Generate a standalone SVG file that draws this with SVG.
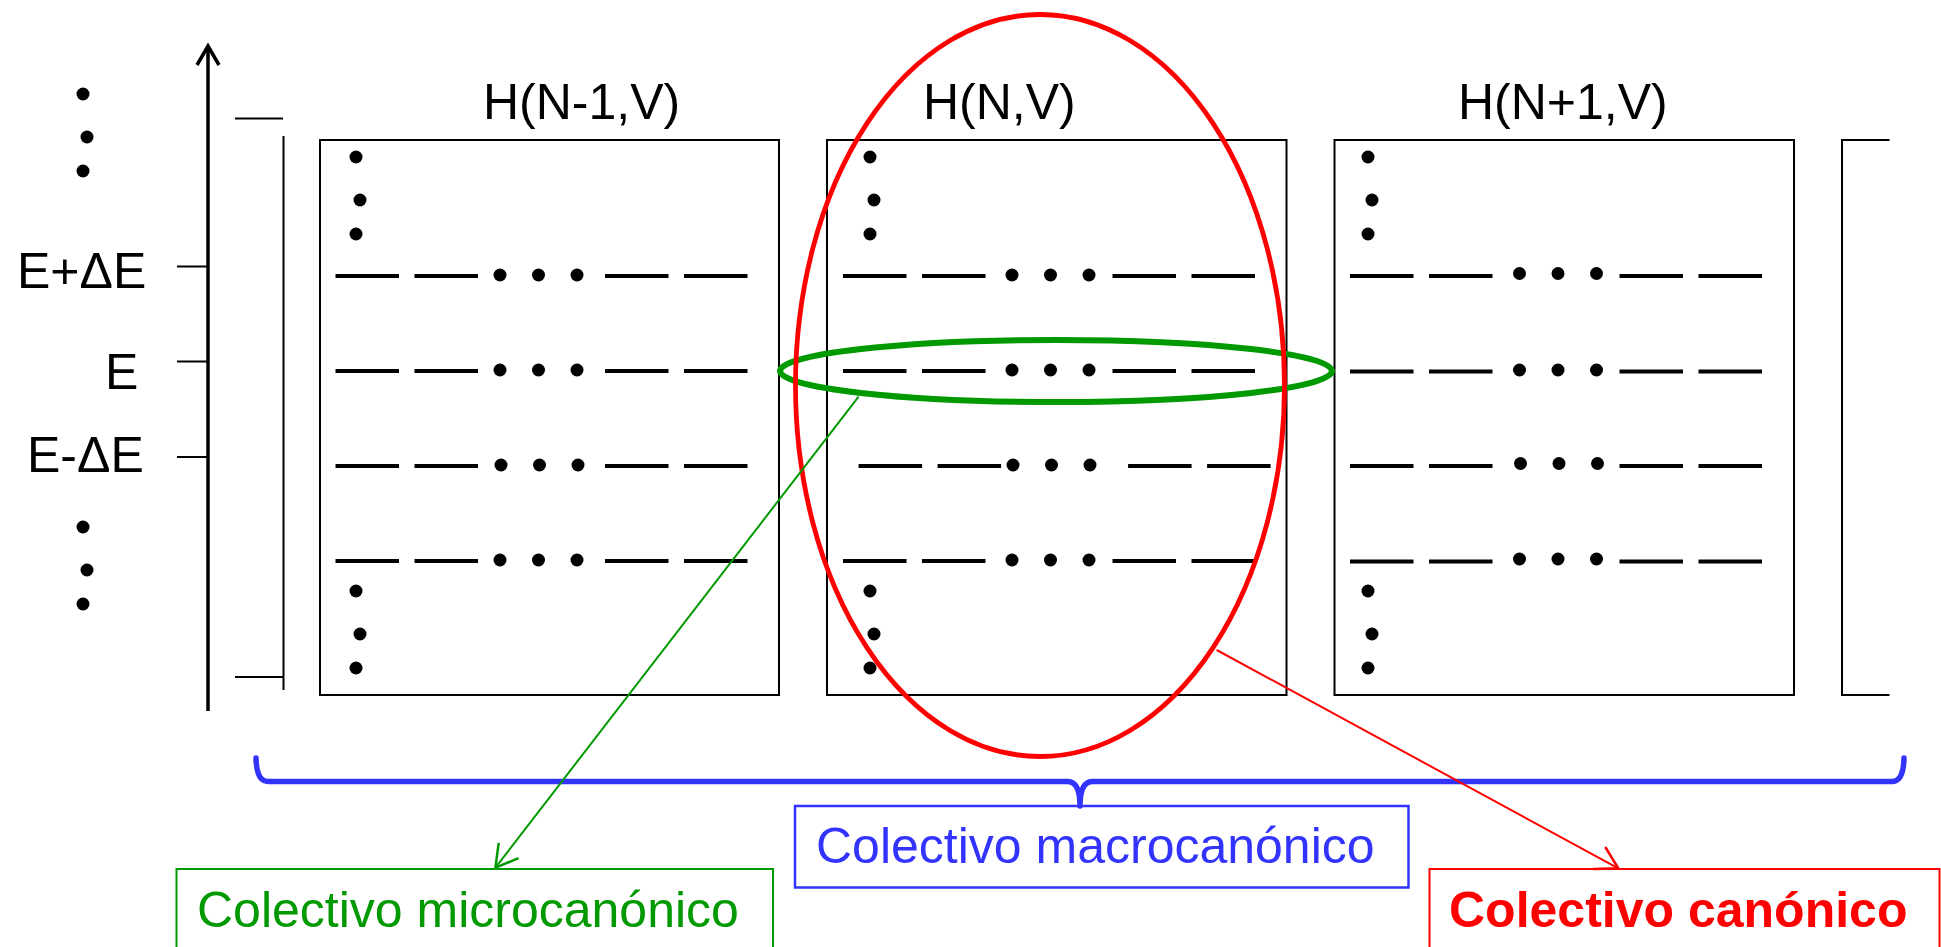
<svg xmlns="http://www.w3.org/2000/svg" xmlns:xlink="http://www.w3.org/1999/xlink" width="1941" height="947" viewBox="0 0 1941 947">
<style>
  .lbl { font-family: "Liberation Sans", Arial, sans-serif; font-size: 50px; fill: #000; }
  .box { fill: none; stroke: #000; stroke-width: 2; }
  .thin { fill: none; stroke: #000; stroke-width: 2; }
  .lvl { fill: none; stroke: #000; stroke-width: 4; }
  .dot { fill: #000; }
  .green { fill: #009900; }
  .blue { fill: #3333FF; }
  .red { fill: #FF0000; }
</style>
<defs>
  <g id="dashes"><path class="lvl" d="M0,0h63.5M79,0h63.5M269.5,0h63.5M348.5,0h63.5"/></g>
  <g id="dots3"><circle class="dot" cx="0" cy="0" r="6.5"/><circle class="dot" cx="38.5" cy="0" r="6.5"/><circle class="dot" cx="77" cy="0" r="6.5"/></g>
  <g id="vdots"><circle class="dot" cx="0" cy="0" r="6.5"/><circle class="dot" cx="4" cy="43" r="6.5"/><circle class="dot" cx="0" cy="77" r="6.5"/></g>
  <marker id="ahG" markerUnits="userSpaceOnUse" markerWidth="30" markerHeight="30" viewBox="-20 -12 22 24" refX="0" refY="0" orient="auto" overflow="visible">
    <path d="M-17.3,-10 L0,0 L-17.3,10" fill="none" stroke="#009900" stroke-width="2"/>
  </marker>
  <marker id="ahR" markerUnits="userSpaceOnUse" markerWidth="30" markerHeight="30" viewBox="-20 -12 22 24" refX="0" refY="0" orient="auto" overflow="visible">
    <path d="M-17.3,-10 L0,0 L-17.3,10" fill="none" stroke="#FF0000" stroke-width="2"/>
  </marker>
</defs>
<rect width="1941" height="947" fill="#fff"/>

<g id="energy-axis">
  <use xlink:href="#vdots" x="83" y="94"/>
  <use xlink:href="#vdots" x="83" y="527"/>
  <line x1="208" y1="711" x2="208" y2="48" stroke="#000" stroke-width="3.5"/>
  <polyline points="197,65 208,46 219,65" fill="none" stroke="#000" stroke-width="3.5"/>
  <path class="thin" d="M177,266.5H208M177,361.5H208M177,457H208"/>
  <text class="lbl" x="17" y="288">E+ΔE</text>
  <text class="lbl" x="105" y="389">E</text>
  <text class="lbl" x="27" y="472">E-ΔE</text>
  <path class="thin" d="M235,118.5H283M283.5,136V690M235,677H283"/>
</g>

<g id="box-n-1">
  <text class="lbl" x="483" y="119">H(N-1,V)</text>
  <rect class="box" x="320" y="140" width="459" height="555"/>
  <use xlink:href="#vdots" x="356" y="157"/>
  <use xlink:href="#dashes" x="335.5" y="276"/><use xlink:href="#dots3" x="500" y="275"/>
  <use xlink:href="#dashes" x="335.5" y="371"/><use xlink:href="#dots3" x="500" y="370"/>
  <use xlink:href="#dashes" x="335.5" y="466"/><use xlink:href="#dots3" x="501" y="465"/>
  <use xlink:href="#dashes" x="335.5" y="561"/><use xlink:href="#dots3" x="500" y="560"/>
  <use xlink:href="#vdots" x="356" y="591"/>
</g>

<g id="box-n">
  <text class="lbl" x="923" y="119">H(N,V)</text>
  <rect class="box" x="827" y="140" width="459.5" height="555"/>
  <use xlink:href="#vdots" x="870" y="157"/>
  <use xlink:href="#dashes" x="843" y="276"/><use xlink:href="#dots3" x="1012" y="275"/>
  <use xlink:href="#dashes" x="843" y="371"/><use xlink:href="#dots3" x="1012" y="370"/>
  <use xlink:href="#dashes" x="858.6" y="466"/><use xlink:href="#dots3" x="1013" y="465"/>
  <use xlink:href="#dashes" x="843" y="561"/><use xlink:href="#dots3" x="1012" y="560"/>
  <use xlink:href="#vdots" x="870" y="591"/>
</g>

<g id="box-n+1">
  <text class="lbl" x="1458" y="119">H(N+1,V)</text>
  <rect class="box" x="1334.5" y="140" width="459.5" height="555"/>
  <use xlink:href="#vdots" x="1368" y="157"/>
  <use xlink:href="#dashes" x="1350" y="276"/><use xlink:href="#dots3" x="1519.5" y="273.5"/>
  <use xlink:href="#dashes" x="1350" y="371.5"/><use xlink:href="#dots3" x="1519.5" y="370"/>
  <use xlink:href="#dashes" x="1350" y="466"/><use xlink:href="#dots3" x="1520.5" y="463.5"/>
  <use xlink:href="#dashes" x="1350" y="561.5"/><use xlink:href="#dots3" x="1519.5" y="559"/>
  <use xlink:href="#vdots" x="1368" y="591"/>
</g>

<g id="box-next">
  <path class="box" d="M1889.5,140H1842V695H1889.5"/>
</g>

<g id="microcanonical-selection">
  <ellipse cx="1056" cy="371" rx="276" ry="31" fill="none" stroke="#009900" stroke-width="6"/>
</g>

<g id="canonical-selection">
  <ellipse cx="1040" cy="385.5" rx="244.5" ry="371" fill="none" stroke="#FF0000" stroke-width="4.8"/>
</g>

<g id="macrocanonical-brace">
  <path d="M256,758 Q256.5,781.5 268,781.5 L1068,781.5 Q1080,782 1080,806 Q1080,782 1092,781.5 L1892,781.5 Q1903.5,781.5 1904,758" fill="none" stroke="#3333FF" stroke-width="5.5" stroke-linejoin="round" stroke-linecap="round"/>
</g>

<g id="label-macro">
  <rect x="795" y="806" width="613.5" height="81.5" fill="none" stroke="#3333FF" stroke-width="2.5"/>
  <text class="lbl blue" x="816" y="863">Colectivo macrocanónico</text>
</g>

<g id="label-micro">
  <rect x="176.5" y="869" width="596.5" height="100" fill="none" stroke="#009900" stroke-width="2"/>
  <text class="lbl green" x="197" y="927">Colectivo microcanónico</text>
</g>

<g id="label-canonico">
  <rect x="1429.5" y="869" width="510" height="100" fill="none" stroke="#FF0000" stroke-width="2"/>
  <text class="lbl red" x="1449" y="927" font-weight="bold">Colectivo canónico</text>
</g>

<g id="connectors">
  <line x1="858.6" y1="396.7" x2="495.4" y2="867.7" stroke="#009900" stroke-width="2" marker-end="url(#ahG)"/>
  <line x1="1216.7" y1="650" x2="1618.3" y2="868.3" stroke="#FF0000" stroke-width="2" marker-end="url(#ahR)"/>
</g>
</svg>
